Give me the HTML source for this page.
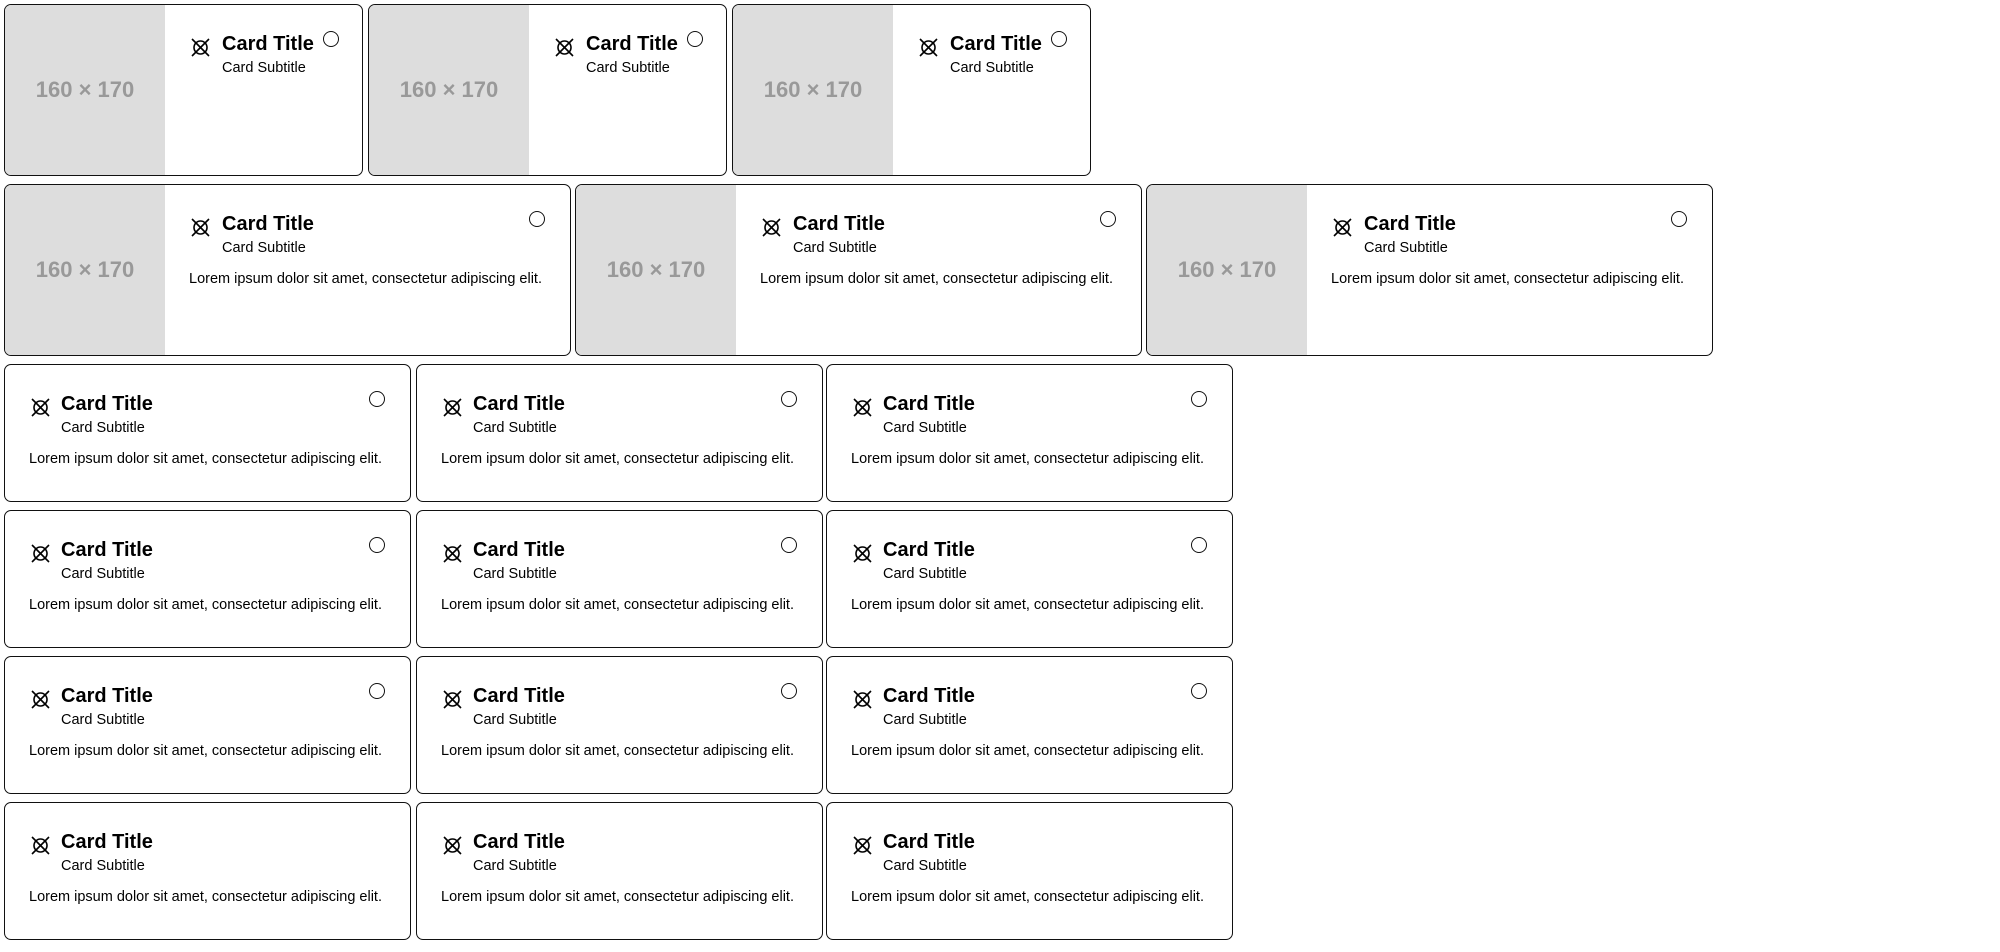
<!DOCTYPE html>
<html><head><meta charset="utf-8"><style>
body{margin:0;width:2000px;height:952px;background:#fff;position:relative;overflow:hidden;font-family:"Liberation Sans",Arial,sans-serif;color:#000}
.c{position:absolute;box-sizing:border-box;border:1px solid #111;border-radius:7px;background:#fff;overflow:hidden}
.r1{top:4px;height:172px;width:359px}
.r2{top:184px;height:172px;width:567px}
.s{height:138px;width:407px}
.img{position:absolute;left:0;top:0;width:160px;height:170px;background:#ddd;color:#999;font-weight:bold;font-size:22px;line-height:170px;text-align:center}
.ic{position:absolute;top:32px;width:21px;height:21px}
.t{position:absolute;top:29px;font-size:20px;line-height:1;font-weight:bold;white-space:nowrap}
.st{position:absolute;top:56px;font-size:14.5px;line-height:1;white-space:nowrap}
.l{position:absolute;top:87px;font-size:14.5px;line-height:1;white-space:nowrap}
.o{position:absolute;top:26px;width:16px;height:16px;box-sizing:border-box;border:1px solid #111;border-radius:50%}
.s .ic,.nx .ic{left:25px}.s .t,.nx .t{left:56px}.s .st,.nx .st{left:56px}.s .l{left:24px}.s .o{right:25px}
.im .ic{left:185px}.im .t,.im .st{left:217px}.im .l{left:184px}
.r1 .o{left:318px}.r2 .o{right:25px}
</style></head><body>
<svg width="0" height="0" style="position:absolute"><defs><g id="x"><circle cx="10.5" cy="10.5" r="6.5" fill="none" stroke="#000" stroke-width="1.6"/><path d="M2 2L19 19M19 2L2 19" stroke="#000" stroke-width="1.6"/></g></defs></svg>

<div class="c r1 im" style="left:4px"><div class="img">160 × 170</div><svg class="ic"><use href="#x"/></svg><div class="t">Card Title</div><div class="st">Card Subtitle</div><div class="o"></div></div>
<div class="c r1 im" style="left:368px"><div class="img">160 × 170</div><svg class="ic"><use href="#x"/></svg><div class="t">Card Title</div><div class="st">Card Subtitle</div><div class="o"></div></div>
<div class="c r1 im" style="left:732px"><div class="img">160 × 170</div><svg class="ic"><use href="#x"/></svg><div class="t">Card Title</div><div class="st">Card Subtitle</div><div class="o"></div></div>

<div class="c r2 im" style="left:4px"><div class="img">160 × 170</div><svg class="ic"><use href="#x"/></svg><div class="t">Card Title</div><div class="st">Card Subtitle</div><div class="l">Lorem ipsum dolor sit amet, consectetur adipiscing elit.</div><div class="o"></div></div>
<div class="c r2 im" style="left:575px"><div class="img">160 × 170</div><svg class="ic"><use href="#x"/></svg><div class="t">Card Title</div><div class="st">Card Subtitle</div><div class="l">Lorem ipsum dolor sit amet, consectetur adipiscing elit.</div><div class="o"></div></div>
<div class="c r2 im" style="left:1146px"><div class="img">160 × 170</div><svg class="ic"><use href="#x"/></svg><div class="t">Card Title</div><div class="st">Card Subtitle</div><div class="l">Lorem ipsum dolor sit amet, consectetur adipiscing elit.</div><div class="o"></div></div>

<div class="c s" style="left:4px;top:364px"><svg class="ic"><use href="#x"/></svg><div class="t">Card Title</div><div class="st">Card Subtitle</div><div class="l">Lorem ipsum dolor sit amet, consectetur adipiscing elit.</div><div class="o"></div></div>
<div class="c s" style="left:416px;top:364px"><svg class="ic"><use href="#x"/></svg><div class="t">Card Title</div><div class="st">Card Subtitle</div><div class="l">Lorem ipsum dolor sit amet, consectetur adipiscing elit.</div><div class="o"></div></div>
<div class="c s" style="left:826px;top:364px"><svg class="ic"><use href="#x"/></svg><div class="t">Card Title</div><div class="st">Card Subtitle</div><div class="l">Lorem ipsum dolor sit amet, consectetur adipiscing elit.</div><div class="o"></div></div>

<div class="c s" style="left:4px;top:510px"><svg class="ic"><use href="#x"/></svg><div class="t">Card Title</div><div class="st">Card Subtitle</div><div class="l">Lorem ipsum dolor sit amet, consectetur adipiscing elit.</div><div class="o"></div></div>
<div class="c s" style="left:416px;top:510px"><svg class="ic"><use href="#x"/></svg><div class="t">Card Title</div><div class="st">Card Subtitle</div><div class="l">Lorem ipsum dolor sit amet, consectetur adipiscing elit.</div><div class="o"></div></div>
<div class="c s" style="left:826px;top:510px"><svg class="ic"><use href="#x"/></svg><div class="t">Card Title</div><div class="st">Card Subtitle</div><div class="l">Lorem ipsum dolor sit amet, consectetur adipiscing elit.</div><div class="o"></div></div>

<div class="c s" style="left:4px;top:656px"><svg class="ic"><use href="#x"/></svg><div class="t">Card Title</div><div class="st">Card Subtitle</div><div class="l">Lorem ipsum dolor sit amet, consectetur adipiscing elit.</div><div class="o"></div></div>
<div class="c s" style="left:416px;top:656px"><svg class="ic"><use href="#x"/></svg><div class="t">Card Title</div><div class="st">Card Subtitle</div><div class="l">Lorem ipsum dolor sit amet, consectetur adipiscing elit.</div><div class="o"></div></div>
<div class="c s" style="left:826px;top:656px"><svg class="ic"><use href="#x"/></svg><div class="t">Card Title</div><div class="st">Card Subtitle</div><div class="l">Lorem ipsum dolor sit amet, consectetur adipiscing elit.</div><div class="o"></div></div>

<div class="c s" style="left:4px;top:802px"><svg class="ic"><use href="#x"/></svg><div class="t">Card Title</div><div class="st">Card Subtitle</div><div class="l">Lorem ipsum dolor sit amet, consectetur adipiscing elit.</div></div>
<div class="c s" style="left:416px;top:802px"><svg class="ic"><use href="#x"/></svg><div class="t">Card Title</div><div class="st">Card Subtitle</div><div class="l">Lorem ipsum dolor sit amet, consectetur adipiscing elit.</div></div>
<div class="c s" style="left:826px;top:802px"><svg class="ic"><use href="#x"/></svg><div class="t">Card Title</div><div class="st">Card Subtitle</div><div class="l">Lorem ipsum dolor sit amet, consectetur adipiscing elit.</div></div>
</body></html>
